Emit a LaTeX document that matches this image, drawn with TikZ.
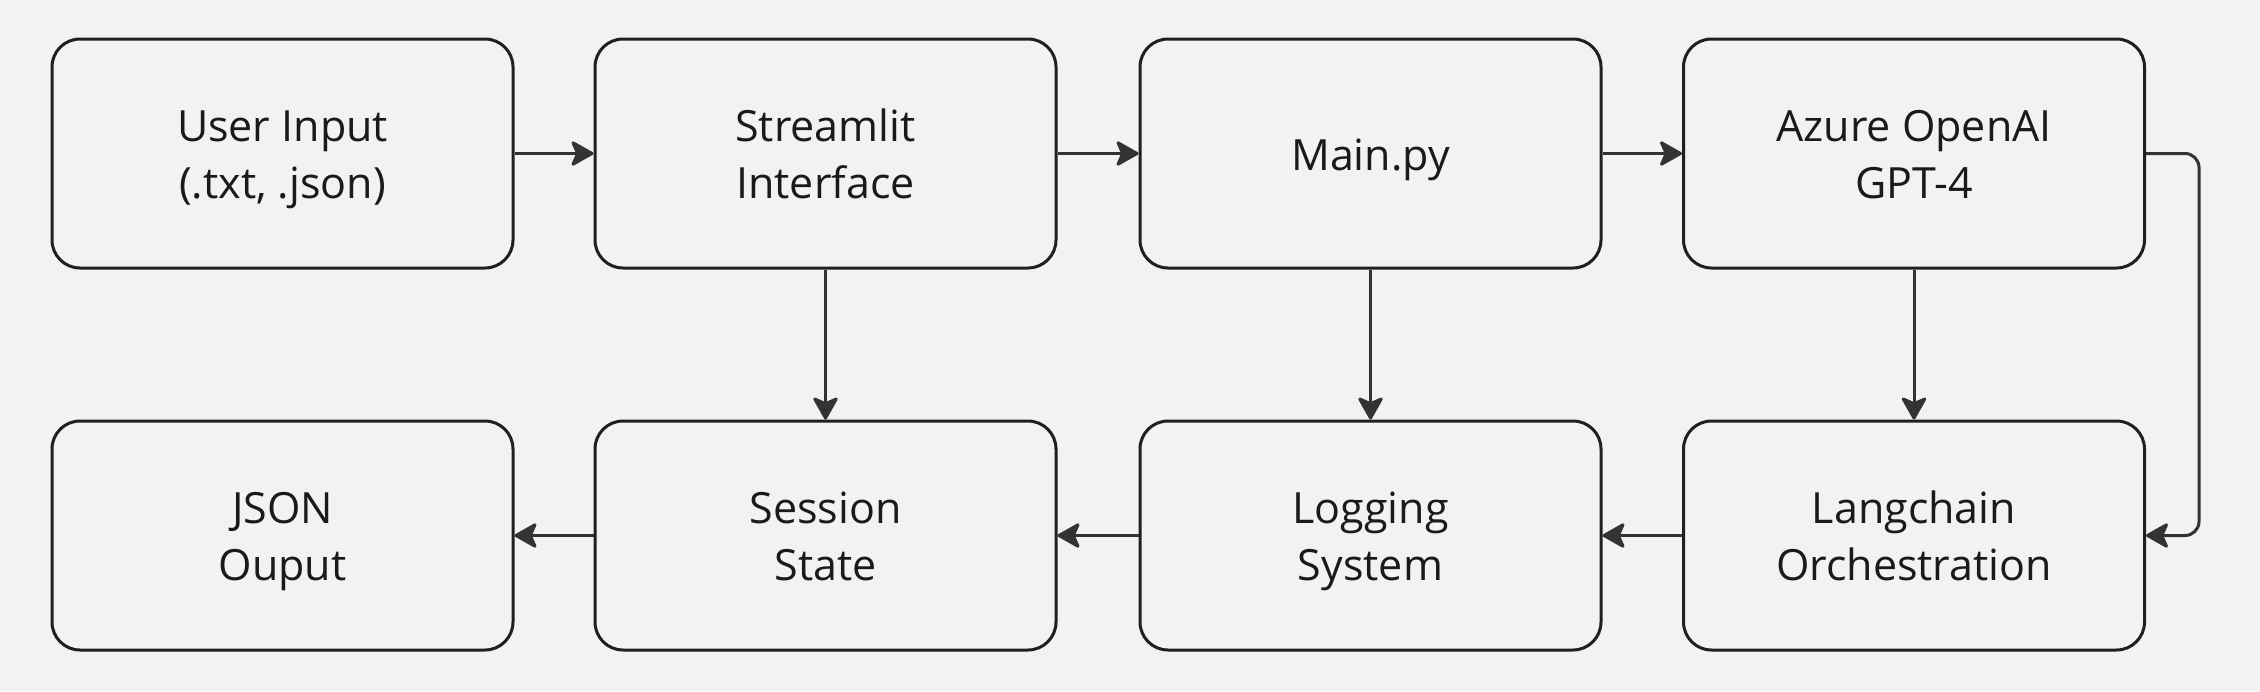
\documentclass[tikz,border=0pt]{standalone}
\usepackage{fontspec}
\setmainfont{Open Sans}
\usetikzlibrary{arrows.meta}
\definecolor{bg}{HTML}{F2F2F2}
\definecolor{edge}{HTML}{1F1F1F}
\definecolor{conn}{HTML}{333333}
\definecolor{txt}{HTML}{1A1A1A}
\newcommand{\bxtext}[1]{\raisebox{-5.5pt}[\height][\depth]{\begin{tabular}{@{}c@{}}#1\end{tabular}}}
\begin{document}
\begin{tikzpicture}[x=1pt,y=-1pt,
  box/.style={draw=edge,line width=3pt,rounded corners=28pt,minimum width=461pt,minimum height=229pt,
    inner sep=0pt,font=\fontsize{43pt}{57pt}\selectfont,text=txt,fill=bg},
  arr/.style={draw=conn,line width=3pt,-{Stealth[length=25pt,width=28pt,inset=6pt,round]}}]
\fill[bg] (0,0) rectangle (2260,691);
\useasboundingbox (0,0) rectangle (2260,691);
\node[box] (ui) at (282.5,153.5) {\bxtext{User Input\\(.txt, .json)}};
\node[box] (si) at (825.5,153.5) {\bxtext{Streamlit\\Interface}};
\node[box] (mp) at (1370.5,153.5) {\bxtext{Main.py}};
\node[box] (az) at (1914,153.5) {\bxtext{Azure OpenAI\\GPT-4}};
\node[box] (jo) at (282.5,535.5) {\bxtext{JSON\\Ouput}};
\node[box] (ss) at (825.5,535.5) {\bxtext{Session\\State}};
\node[box] (ls) at (1370.5,535.5) {\bxtext{Logging\\System}};
\node[box] (lc) at (1914,535.5) {\bxtext{Langchain\\Orchestration}};
\coordinate (c1) at (2199,153.5);
\coordinate (c2) at (2199,535.5);
\draw[arr] (ui) -- (si);
\draw[arr] (si) -- (mp);
\draw[arr] (mp) -- (az);
\draw[arr] (si) -- (ss);
\draw[arr] (mp) -- (ls);
\draw[arr] (az) -- (lc);
\draw[arr] (lc) -- (ls);
\draw[arr] (ls) -- (ss);
\draw[arr] (ss) -- (jo);
\draw[arr,rounded corners=14pt] (az.east) -- (c1) -- (c2) -- (lc.east);
\end{tikzpicture}
\end{document}
